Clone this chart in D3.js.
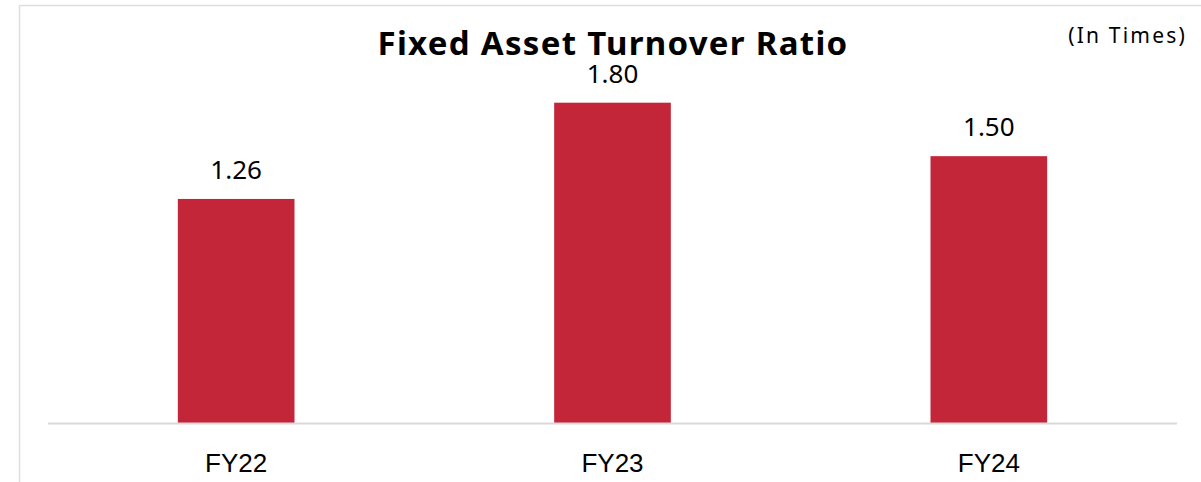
<!DOCTYPE html>
<html>
<head>
<meta charset="utf-8">
<script src="https://cdn.jsdelivr.net/npm/d3@7"></script>
<style>
  html, body { margin: 0; padding: 0; background: #ffffff; }
  svg { display: block; }
</style>
</head>
<body>
<svg id="chart" width="1201" height="482"></svg>
<script>
// Fixed asset turnover, in times
const categories = ["FY22", "FY23", "FY24"];
const values = [1.26, 1.80, 1.50];
const valueLabels = ["1.26", "1.80", "1.50"];
const titleText = "Fixed Asset Turnover Ratio";
const unitText = "(In Times)";

const W = 1201, H = 482;
const svg = d3.select("#chart");

// frame: top and left rules
svg.append("line")
  .attr("x1", 19).attr("x2", W).attr("y1", 5.5).attr("y2", 5.5)
  .attr("stroke", "#dedede").attr("stroke-width", 1.5);
svg.append("line")
  .attr("x1", 19.5).attr("x2", 19.5).attr("y1", 5).attr("y2", H)
  .attr("stroke", "#dedede").attr("stroke-width", 1.5);

const plotLeft = 48, plotRight = 1177, baseY = 423.5;

const x = d3.scaleBand()
  .domain(categories)
  .range([plotLeft, plotRight])
  .paddingInner(0.69)
  .paddingOuter(0.345);

const y = d3.scaleLinear()
  .domain([0, 1.8])
  .range([baseY, 102.7]);

// bars
svg.append("g").selectAll("rect")
  .data(values)
  .join("rect")
  .attr("x", (d, i) => x(categories[i]))
  .attr("width", x.bandwidth())
  .attr("y", d => y(d))
  .attr("height", d => baseY - y(d))
  .attr("fill", "#c32638");

// category axis
const axis = svg.append("g")
  .attr("transform", `translate(0,${baseY})`)
  .call(d3.axisBottom(x).tickSize(0).tickPadding(0));
axis.select(".domain")
  .attr("d", `M${plotLeft},0H${plotRight}`)
  .attr("stroke", "#d9d9d9").attr("stroke-width", 2);
axis.selectAll(".tick text")
  .attr("y", 48)
  .attr("dy", 0)
  .attr("fill", "#000")
  .style("font-family", "'Liberation Sans', Arial, sans-serif")
  .style("font-size", "26px");

// value labels
svg.append("g").selectAll("text")
  .data(values)
  .join("text")
  .attr("x", (d, i) => x(categories[i]) + x.bandwidth() / 2)
  .attr("y", d => y(d) - 20)
  .attr("text-anchor", "middle")
  .style("font-family", "'Noto Sans', sans-serif")
  .style("font-size", "26px")
  .attr("fill", "#000")
  .text((d, i) => valueLabels[i]);

// title
svg.append("text")
  .attr("x", 613).attr("y", 55)
  .attr("text-anchor", "middle")
  .style("font-family", "'Noto Sans', sans-serif")
  .style("font-weight", 700)
  .style("font-size", "33px")
  .style("letter-spacing", "1.3px")
  .attr("fill", "#000")
  .text(titleText);

// unit note
svg.append("text")
  .attr("x", 1187).attr("y", 43)
  .attr("text-anchor", "end")
  .style("font-family", "'Noto Sans', sans-serif")
  .style("font-size", "21px")
  .style("letter-spacing", "2.2px")
  .attr("fill", "#000")
  .text(unitText);
</script>
</body>
</html>
